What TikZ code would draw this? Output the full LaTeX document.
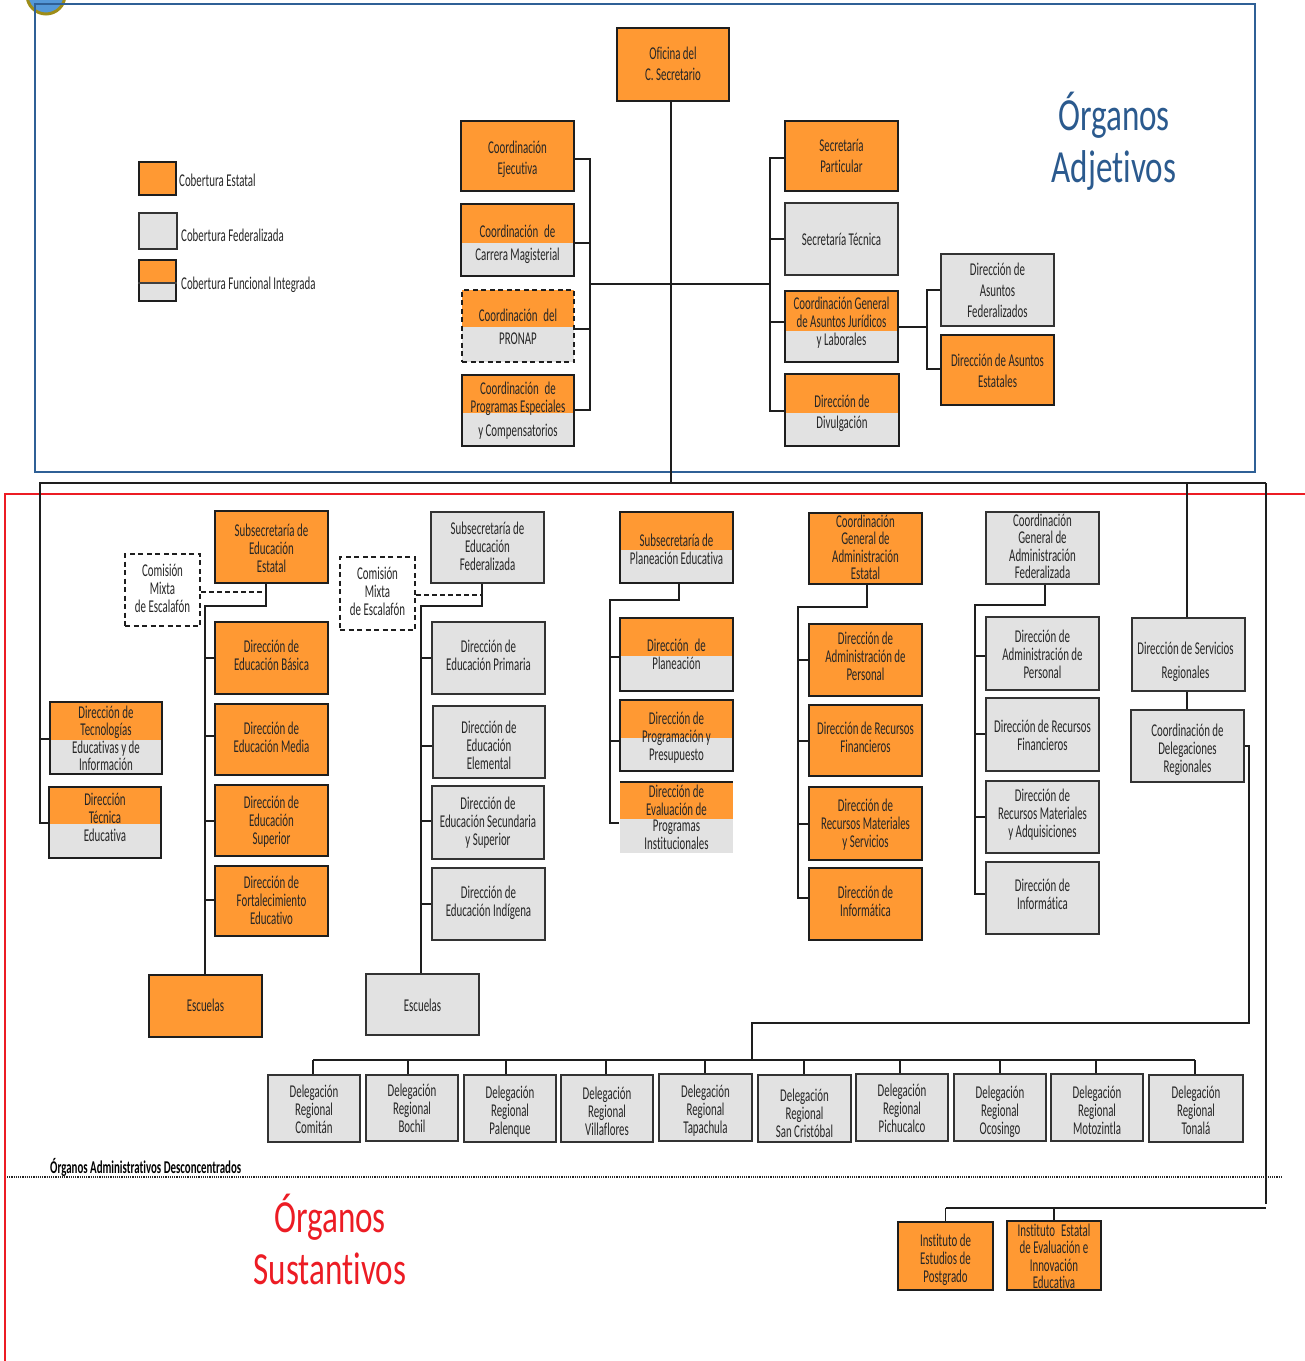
\documentclass[tikz,border=0pt]{standalone}
\usepackage{fontspec}
\setmainfont{Carlito}[FakeStretch=0.605,Ligatures=NoCommon]
\newfontfamily\titlefont{Carlito}[FakeStretch=0.72,Ligatures=NoCommon]
\usetikzlibrary{calc}
\definecolor{cOr}{HTML}{FF9933}
\definecolor{cGr}{HTML}{E2E2E2}
\definecolor{cBl}{HTML}{2F6096}
\definecolor{cTi}{HTML}{2B5A8E}
\definecolor{cRe}{HTML}{EC1C24}
\definecolor{cLn}{HTML}{1E1E1E}
\tikzset{
 boxbase/.style={rectangle,inner sep=0pt,line width=2.1pt,draw=cLn,align=center,text=black!85},
 oran/.style={boxbase,fill=cOr},
 gris/.style={boxbase,fill=cGr,draw=black!80},
 mixd/.style={boxbase},
 tight/.style={font=\fontsize{18}{16.3}\selectfont},
 dashbox/.style={boxbase,dash pattern=on 5pt off 3.5pt},
 link/.style={line width=1.9pt,draw=cLn},
 dlink/.style={line width=1.9pt,draw=cLn,dash pattern=on 5pt off 3pt},
 ltext/.style={inner sep=0pt,anchor=west,text=black!85,font=\fontsize{18}{18}\selectfont},
 ttext/.style={inner sep=0pt,align=center,font=\titlefont\fontsize{46}{52}\selectfont},
}
\newcommand\bx[8][]{%
 \pgfmathsetmacro\bcx{(#3+#5)/2}\pgfmathsetmacro\bcy{(#4+#6)/2}%
 \pgfmathsetmacro\bw{#5-#3}\pgfmathsetmacro\bh{#6-#4}\pgfmathsetmacro\brs{\bcy-#7-6}%
 \node[oran,font=\fontsize{18}{18.3}\selectfont,minimum width=\bw pt,minimum height=\bh pt,#1] (#2) at (\bcx,\bcy)
   {\raisebox{\brs pt}[0pt][0pt]{\begin{tabular}{@{}c@{}}#8\end{tabular}}};}
\newcommand\bxm[9][]{%
 \fill[cOr] (#3,#4) rectangle (#5,#7);\fill[cGr] (#3,#7) rectangle (#5,#6);%
 \mxrest{#1}{#2}{#3}{#4}{#5}{#6}{#8}{#9}}
\newcommand\mxrest[8]{\bx[mixd,fill=none,#1]{#2}{#3}{#4}{#5}{#6}{#7}{#8}}
\begin{document}
\begin{tikzpicture}[x=1pt,y=-1pt]
\useasboundingbox (0,0) rectangle (1305,1361);
% seal
\fill[cyan!60!blue!70,draw=olive!70!brown,line width=3pt] (46,-5) circle (19);
% frames
\coordinate (bfa) at (35,4); \coordinate (bfb) at (1255,472);
\draw[cBl,line width=2.6pt] (bfa) rectangle (bfb);
\coordinate (rfa) at (5,1361); \coordinate (rfb) at (5,494); \coordinate (rfc) at (1305,494);
\draw[cRe,line width=2.2pt] (rfa) -- (rfb) -- (rfc);
% legend
\bx{lga}{139}{162}{176}{195}{178}{}
\bx[gris]{lgb}{139}{213}{177}{249}{231}{}
\bxm{lgc}{139}{260}{176}{301}{283}{280}{}
\draw[line width=1.2pt,black!75] (lgc.west |- 0,283) -- (lgc.east |- 0,283);
\node[ltext] (lta) at (179,180) {Cobertura Estatal};
\node[ltext] (ltb) at (181,235) {Cobertura Federalizada};
\node[ltext] (ltc) at (181,285) {Cobertura Funcional Integrada};
% titles
\node[ttext,text=cTi] (tad) at (1114,141) {Órganos\\Adjetivos};
\node[ttext,text=cRe] (tsu) at (330,1239) {Órganos\\Sustantivos};
% top block
\bx{ofi}{617}{28}{729}{101}{65}{Oficina del\\[3pt]C. Secretario}
\bx{cej}{461}{121}{574}{191}{159}{Coordinación\\[3pt]Ejecutiva}
\bxm{cca}{461}{204}{574}{276}{243}{244}{Coordinación\,\,de\\[5pt]Carrera Magisterial}
\bxm[dashbox]{cpr}{462}{290}{574}{362}{327}{328}{Coordinación\,\,del\\[5pt]PRONAP}
\bxm{cpe}{462}{375}{574}{446}{413}{410}{Coordinación\,\,de\\Programas Especiales\\[5pt]y Compensatorios}
\bx{spa}{785}{121}{898}{191}{157}{Secretaría\\[3pt]Particular}
\bx[gris]{ste}{785}{203}{898}{275}{240}{Secretaría Técnica}
\bxm{cgj}{785}{291}{898}{362}{331}{322}{Coordinación General\\de Asuntos Jurídicos\\y Laborales}
\bxm{ddv}{785}{374}{899}{446}{413}{413}{Dirección de\\[3pt]Divulgación}
\bx[gris]{daf}{941}{254}{1054}{326}{291}{Dirección de\\[3pt]Asuntos\\[3pt]Federalizados}
\bx{dae}{941}{335}{1054}{405}{372}{Dirección de Asuntos\\[3pt]Estatales}
% top connectors
\coordinate (sL) at (590,284); \coordinate (sR) at (770,284); \coordinate (sA) at (927,327);
\coordinate (topL) at (40,483); \coordinate (topM) at (671,483); \coordinate (topR) at (1266,483);
\draw[link] (ofi.south -| topM) -- (topM);
\draw[link] (sL) -- (sR);
\draw[link] (cej.east |- 0,159) -| (sL) |- (cpe.east |- 0,410);
\draw[link] (cca.east |- 0,243) -- (sL |- 0,243);
\draw[link] (cpr.east |- 0,329) -- (sL |- 0,329);
\draw[link] (spa.west |- 0,158) -| (sR) |- (ddv.west |- 0,411);
\draw[link] (ste.west) -- (sR |- ste.west);
\draw[link] (cgj.west |- 0,322) -- (sR |- 0,322);
\draw[link] (cgj.east |- 0,327) -- (sA);
\draw[link] (daf.west |- 0,290) -| (sA) |- (dae.west |- 0,369);
% left
\bxm[tight]{dte}{50}{702}{162}{774}{740}{739}{Dirección de\\Tecnologías\\Educativas y de\\Información}
\bxm{tdt}{49}{787}{161}{858}{824}{818}{Dirección\\Técnica\\Educativa}
% wide bus
\draw[link] (tdt.west |- 0,823) -| (topL) -- (topR);
\draw[link] (dte.west |- 0,739) -- (topL |- 0,739);
\coordinate (rbot) at (1266,1204);
\draw[link] (topR) -- (rbot);
\coordinate (reB) at (1266,1208);
% Estatal column
\bx{sse}{215}{511}{328}{583}{549}{Subsecretaría de\\Educación\\Estatal}
\bx[draw=cLn,fill=white,dashbox]{cm1}{125}{554}{200}{626}{589}{Comisión\\Mixta\\de Escalafón}
\bx{deb}{215}{622}{328}{694}{656}{Dirección de\\Educación Básica}
\bx{dem}{215}{704}{328}{775}{738}{Dirección de\\Educación Media}
\bx{des}{215}{785}{328}{856}{821}{Dirección de\\Educación\\Superior}
\bx{dfe}{215}{866}{328}{936}{901}{Dirección de\\Fortalecimiento\\Educativo}
\bx{es1}{149}{975}{262}{1037}{1006}{Escuelas}
\coordinate (eA) at (266,606); \coordinate (eB) at (205,606);
\draw[dlink] (cm1.east |- 0,592) -- (eA |- 0,592);
\draw[link] (eA |- sse.south) -- (eA) -- (eB) -- (eB |- es1.north);
\foreach \n/\y in {deb/658,dem/736,des/821,dfe/900}{\draw[link] (\n.west |- 0,\y) -- (eB |- 0,\y);}
% Federalizada column
\bx[gris]{ssf}{431}{512}{544}{583}{547}{Subsecretaría de\\Educación\\Federalizada}
\bx[draw=cLn,fill=white,dashbox]{cm2}{340}{557}{415}{630}{592}{Comisión\\Mixta\\de Escalafón}
\bx[gris]{dep}{432}{622}{545}{694}{656}{Dirección de\\Educación Primaria}
\bx[gris]{del}{433}{706}{545}{778}{746}{Dirección de\\Educación\\Elemental}
\bx[gris]{dss}{432}{786}{544}{859}{822}{Dirección de\\Educación Secundaria\\y Superior}
\bx[gris]{din}{432}{868}{545}{940}{902}{Dirección de\\Educación Indígena}
\bx[gris]{es2}{366}{974}{479}{1035}{1006}{Escuelas}
\coordinate (fA) at (482,606); \coordinate (fB) at (421,606);
\draw[dlink] (cm2.east |- 0,595) -- (fA |- 0,595);
\draw[link] (fA |- ssf.south) -- (fA) -- (fB) -- (fB |- es2.north);
\foreach \n/\y in {dep/658,del/746,dss/821,din/904}{\draw[link] (\n.west |- 0,\y) -- (fB |- 0,\y);}
% Planeacion column
\bxm{ssp}{620}{512}{733}{583}{550}{550}{Subsecretaría de\\Planeación Educativa}
\bxm{dpl}{620}{618}{733}{691}{656}{655}{Dirección\,\,de\\Planeación}
\bxm{dpr}{620}{700}{733}{771}{738}{737}{Dirección de\\Programación y\\Presupuesto}
\bxm[draw=none,tight]{dev}{620}{782}{733}{853}{819}{818}{Dirección de\\Evaluación de\\Programas\\Institucionales}
\coordinate (evT) at (620,782); \coordinate (evR) at (733,782);
\draw[line width=2.1pt,cLn] (evT) -- (evR);
\coordinate (pA) at (679,600); \coordinate (pB) at (610,600);
\draw[link] (pA |- ssp.south) -- (pA) -- (pB) -- (pB |- 0,823) -- (dev.west |- 0,823);
\foreach \n/\y in {dpl/657,dpr/741}{\draw[link] (\n.west |- 0,\y) -- (pB |- 0,\y);}
% Admin Estatal column
\bx[tight]{cae}{809}{513}{922}{584}{548}{Coordinación\\General de\\Administración\\Estatal}
\bx{dap}{809}{624}{922}{696}{657}{Dirección de\\Administración de\\Personal}
\bx{drf}{809}{705}{922}{776}{738}{Dirección de Recursos\\Financieros}
\bx{drm}{809}{787}{922}{860}{824}{Dirección de\\Recursos Materiales\\y Servicios}
\bx{dif}{809}{868}{922}{940}{902}{Dirección de\\Informática}
\coordinate (aA) at (867,607); \coordinate (aB) at (798,607);
\draw[link] (aA |- cae.south) -- (aA) -- (aB) -- (aB |- 0,898) -- (dif.west |- 0,898);
\foreach \n/\y in {dap/660,drf/741,drm/824}{\draw[link] (\n.west |- 0,\y) -- (aB |- 0,\y);}
% Admin Federalizada column
\bx[gris,tight]{caf}{986}{512}{1099}{584}{547}{Coordinación\\General de\\Administración\\Federalizada}
\bx[gris]{fap}{986}{617}{1099}{690}{655}{Dirección de\\Administración de\\Personal}
\bx[gris]{frf}{986}{698}{1099}{771}{736}{Dirección de Recursos\\Financieros}
\bx[gris]{frm}{986}{781}{1099}{853}{814}{Dirección de\\Recursos Materiales\\y Adquisiciones}
\bx[gris]{fif}{986}{862}{1099}{934}{895}{Dirección de\\Informática}
\coordinate (cA) at (1045,605); \coordinate (cB) at (975,605);
\draw[link] (cA |- caf.south) -- (cA) -- (cB) -- (cB |- 0,894) -- (fif.west |- 0,894);
\foreach \n/\y in {fap/656,frf/734,frm/817}{\draw[link] (\n.west |- 0,\y) -- (cB |- 0,\y);}
% Regionales
\bx[gris]{dsr}{1132}{618}{1245}{691}{661}{\hspace*{-6pt}Dirección de Servicios\\[5pt]\hspace*{-6pt}Regionales}
\bx[gris]{cdr}{1131}{710}{1244}{782}{749}{Coordinación de\\Delegaciones\\Regionales}
\draw[link] (topL -| 1187,0) -- (dsr.north -| 1187,0);
\draw[link] (dsr.south -| 1187,0) -- (cdr.north -| 1187,0);
% Delegaciones
\bx[gris]{d01}{268}{1075}{360}{1142}{1110}{Delegación\\Regional\\Comitán}
\bx[gris]{d02}{366}{1075}{458}{1141}{1109}{Delegación\\Regional\\Bochil}
\bx[gris]{d03}{464}{1075}{556}{1142}{1111}{Delegación\\Regional\\Palenque}
\bx[gris]{d04}{561}{1075}{653}{1142}{1112}{Delegación\\Regional\\Villaflores}
\bx[gris]{d05}{659}{1074}{752}{1141}{1110}{Delegación\\Regional\\Tapachula}
\bx[gris]{d06}{758}{1075}{851}{1142}{1114}{Delegación\\Regional\\San Cristóbal}
\bx[gris]{d07}{856}{1074}{948}{1141}{1109}{Delegación\\Regional\\Pichucalco}
\bx[gris]{d08}{954}{1074}{1046}{1141}{1111}{Delegación\\Regional\\Ocosingo}
\bx[gris]{d09}{1051}{1074}{1143}{1141}{1111}{Delegación\\Regional\\Motozintla}
\bx[gris]{d10}{1149}{1075}{1243}{1142}{1111}{Delegación\\Regional\\Tonalá}
\coordinate (dbL) at (313,1060); \coordinate (dbR) at (1195,1060); \coordinate (dbM) at (752,1060);
\coordinate (drA) at (1249,746); \coordinate (drB) at (1249,1023); \coordinate (drC) at (752,1023);
\draw[link] (dbL) -- (dbR);
\draw[link] (cdr.east |- drA) -- (drA) -- (drB) -- (drC) -- (dbM);
\foreach \n/\x in {d01/313,d02/408,d03/506,d04/606,d05/705,d06/804,d07/900,d08/1000,d09/1096,d10/1195}
  {\draw[link] (\x,1060) -- (\n.north -| \x,0);}
% desconcentrados
\node[inner sep=0pt,anchor=west,font=\fontsize{18}{18}\selectfont\bfseries] (oad) at (50,1167) {Órganos Administrativos Desconcentrados};
\coordinate (dta) at (7,1177); \coordinate (dtb) at (1282,1177);
\draw[line width=1.8pt,black!85,dash pattern=on 1.2pt off 1pt] (dta) -- (dtb);
% institutos
\bx{ies}{898}{1222}{993}{1290}{1259}{Instituto de\\Estudios de\\Postgrado}
\bx[tight]{iee}{1007}{1221}{1101}{1290}{1257}{Instituto\,\,Estatal\\de Evaluación e\\Innovación\\Educativa}
\draw[link] (ies.north |- reB) -- (ies.north);
\draw[link] (iee.north |- reB) -- (iee.north);
\draw[link] (ies.north |- reB) -- (reB);
\end{tikzpicture}
\end{document}
